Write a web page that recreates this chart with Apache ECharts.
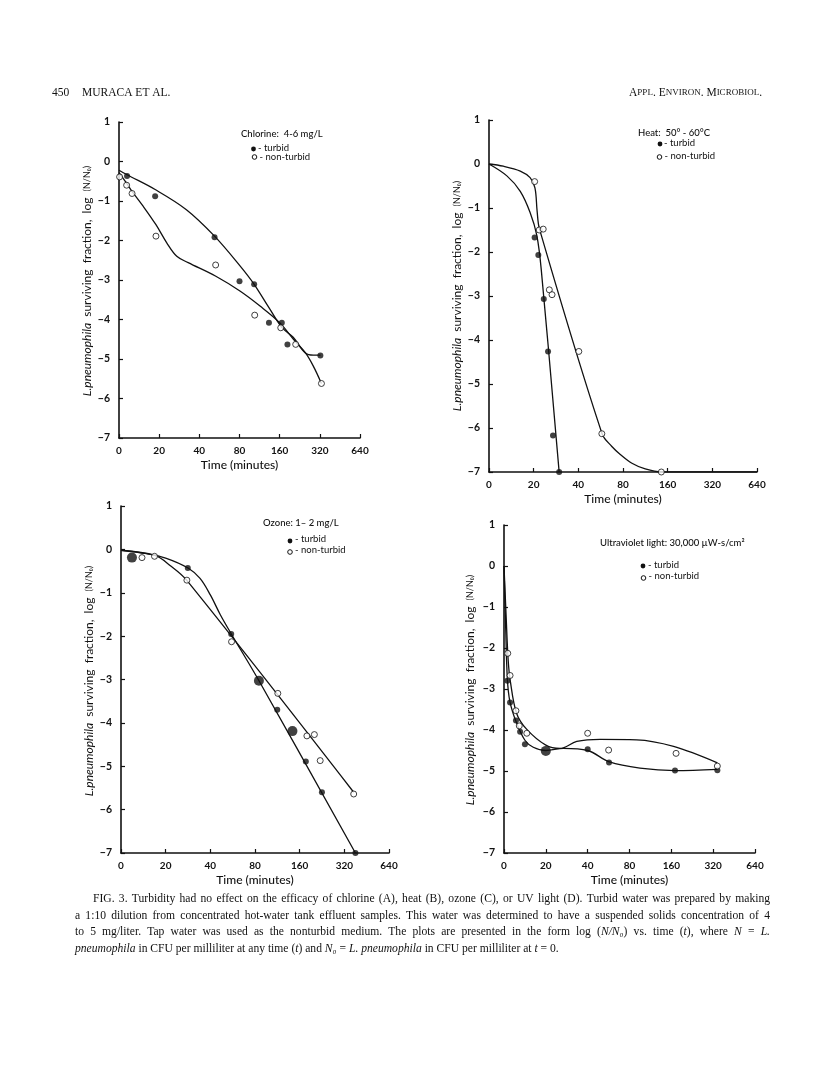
<!DOCTYPE html>
<html><head><meta charset="utf-8">
<script src="https://cdn.jsdelivr.net/npm/echarts@6/dist/echarts.min.js"></script>
<style>html,body{margin:0;padding:0;background:#fff}#c{width:816px;height:1077px}</style>
</head><body><div id="c"></div>
<script>
// ---------- DATA ----------
const X_TICK_LABELS = [0, 20, 40, 80, 160, 320, 640];   // minutes, equally spaced on the axis
const Y_MIN = -7, Y_MAX = 1;

// A: Chlorine 4-6 mg/L
const chlorineTurbidT = [4, 18, 52, 80, 103, 133, 166, 183, 323];
const chlorineTurbidV = [-0.37, -0.88, -1.92, -3.03, -3.11, -4.08, -4.08, -4.63, -4.91];
const chlorineClearT  = [0.3, 3.8, 6.5, 18.4, 53, 104, 163, 211, 329];
const chlorineClearV  = [-0.39, -0.6, -0.81, -1.89, -2.62, -3.89, -4.21, -4.63, -5.62];
const chlorineTurbidCurveT = [0, 3.8, 18, 32, 52, 81, 103, 133, 166, 202, 248, 286, 324];
const chlorineTurbidCurveV = [-0.22, -0.33, -0.71, -1.22, -1.89, -2.65, -3.11, -3.70, -4.2, -4.45, -4.84, -4.9, -4.9];
const chlorineClearCurveT  = [0, 3.8, 6.4, 12, 18.4, 22.8, 27.1, 33, 52.8, 80.6, 114, 160, 203, 249, 286, 329];
const chlorineClearCurveV  = [-0.28, -0.55, -0.75, -1.13, -1.6, -2.06, -2.4, -2.56, -2.9, -3.28, -3.66, -4.08, -4.5, -4.84, -5.18, -5.62];

// B: Heat 50-60 C
const heatTurbidT = [20.3, 21.5, 23.4, 25, 27, 29.7];
const heatTurbidV = [-1.67, -2.07, -3.07, -4.26, -6.17, -7.0];
const heatClearT  = [20.3, 21.8, 23.2, 25.5, 26.6, 40.3, 57.6, 145];
const heatClearV  = [-0.40, -1.5, -1.48, -2.86, -2.97, -4.26, -6.13, -7.0];
const heatTurbidCurveT = [0, 8, 14, 18.4, 21, 22.5, 29.7];
const heatTurbidCurveV = [0, -0.27, -0.62, -1.1, -1.62, -2.4, -7];
const heatClearCurveT  = [0, 6.4, 14, 18.4, 20.4, 21.1, 21.9, 57.8, 67.3, 76.7, 91.9, 113, 145, 640];
const heatClearCurveV  = [0, -0.05, -0.16, -0.31, -0.54, -1.07, -1.48, -6.13, -6.42, -6.6, -6.8, -6.93, -7, -7];

// C: Ozone 1-2 mg/L
const ozoneTurbidT = [4.9, 28.2, 55.3, 85, 113, 143, 176, 226, 380];
const ozoneTurbidV = [-0.19, -0.43, -1.95, -3.03, -3.7, -4.19, -4.89, -5.6, -7.0];
const ozoneClearT  = [9.4, 15, 27.8, 55.6, 114, 179, 201, 220, 370];
const ozoneClearV  = [-0.19, -0.16, -0.71, -2.13, -3.32, -4.3, -4.27, -4.87, -5.64];
const ozoneTurbidCurveT = [0, 11.6, 20, 28.3, 34.1, 40, 46.6, 55.4, 85.1, 380];
const ozoneTurbidCurveV = [-0.02, -0.1, -0.2, -0.43, -0.67, -1.05, -1.5, -1.95, -3.03, -7];
const ozoneClearCurveT  = [0, 15.2, 21.4, 27.7, 370];
const ozoneClearCurveV  = [-0.02, -0.14, -0.37, -0.71, -5.6];

// D: Ultraviolet light 30,000 uW-s/cm2
const uvTurbidT = [1.6, 2.9, 5.7, 7.7, 10, 20, 40, 57, 170, 343];
const uvTurbidV = [-2.8, -3.33, -3.77, -4.04, -4.35, -4.51, -4.47, -4.79, -4.99, -4.98];
const uvClearT  = [1.8, 2.9, 5.7, 7.3, 10.9, 40, 56.6, 173, 343];
const uvClearV  = [-2.13, -2.67, -3.53, -3.9, -4.08, -4.08, -4.49, -4.57, -4.88];
const uvTurbidCurveT = [0, 0.8, 1.6, 2.8, 5.8, 10, 14, 20, 26.8, 40, 57.4, 95.1, 170, 343];
const uvTurbidCurveV = [0, -1.5, -2.75, -3.3, -3.8, -4.25, -4.42, -4.5, -4.45, -4.5, -4.78, -4.93, -4.99, -4.96];
const uvClearCurveT  = [0, 1, 2, 3, 6, 10.8, 20, 25.3, 33.4, 49.2, 90, 166, 343];
const uvClearCurveV  = [0, -1.2, -2.3, -2.8, -3.59, -3.98, -4.37, -4.45, -4.28, -4.23, -4.24, -4.4, -4.8];

// ---------- AXIS TRANSFORM (0..20 linear, then doubling per step) ----------
function toPos(t) { return t <= 20 ? t / 20 : 1 + Math.log2(t / 20); }
function pts(T, V) { return T.map((t, i) => [toPos(t), V[i]]); }

// ---------- LAYOUT ----------
const SANS = 'Lato, "DejaVu Sans", sans-serif';
const SERIF = '"Liberation Serif", "DejaVu Serif", serif';
const panels = [
  { grid: {left:119, top:122, width:241, height:316}, ytitle:[87,281],
    head:['Chlorine:  4-6 mg/L', 241, 134], l1:[253.5,149,258,148], l2:[254.5,157,259.5,157],
    tT:chlorineTurbidT, tV:chlorineTurbidV, cT:chlorineClearT, cV:chlorineClearV,
    tcT:chlorineTurbidCurveT, tcV:chlorineTurbidCurveV, ccT:chlorineClearCurveT, ccV:chlorineClearCurveV, big:[] },
  { grid: {left:489, top:120, width:268, height:352}, ytitle:[457,296],
    head:['Heat:  50° - 60°C', 638, 133], l1:[660,144,664,143], l2:[659.5,157,664.5,156],
    tT:heatTurbidT, tV:heatTurbidV, cT:heatClearT, cV:heatClearV,
    tcT:heatTurbidCurveT, tcV:heatTurbidCurveV, ccT:heatClearCurveT, ccV:heatClearCurveV, big:[] },
  { grid: {left:121, top:506, width:268, height:347}, ytitle:[89,681],
    head:['Ozone: 1– 2 mg/L', 263, 523], l1:[290,541,295,539], l2:[290,552,295,550],
    tT:ozoneTurbidT, tV:ozoneTurbidV, cT:ozoneClearT, cV:ozoneClearV,
    tcT:ozoneTurbidCurveT, tcV:ozoneTurbidCurveV, ccT:ozoneClearCurveT, ccV:ozoneClearCurveV, big:[0,3,5] },
  { grid: {left:504, top:525, width:251, height:328}, ytitle:[470,690],
    head:['Ultraviolet light: 30,000 µW-s/cm²', 600, 543], l1:[643,566,648,565], l2:[643.5,578,648.5,576],
    tT:uvTurbidT, tV:uvTurbidV, cT:uvClearT, cV:uvClearV,
    tcT:uvTurbidCurveT, tcV:uvTurbidCurveV, ccT:uvClearCurveT, ccV:uvClearCurveV, big:[5] }
];

const grids = [], xAxes = [], yAxes = [], series = [], graphics = [];
panels.forEach((p, k) => {
  grids.push(Object.assign({containLabel:false}, p.grid));
  xAxes.push({
    gridIndex:k, type:'value', min:0, max:X_TICK_LABELS.length - 1, interval:1,
    name:'Time (minutes)', nameLocation:'middle', nameGap:21,
    nameTextStyle:{color:'#111', fontSize:12, fontFamily:SANS, fontWeight:500},
    axisLine:{onZero:false, lineStyle:{color:'#111', width:1.6}},
    axisTick:{inside:true, length:4, lineStyle:{color:'#111', width:1.2}},
    axisLabel:{color:'#111', fontSize:10, fontWeight:'bold', fontFamily:SANS, margin:8,
      formatter: v => String(X_TICK_LABELS[Math.round(v)])},
    splitLine:{show:false}
  });
  yAxes.push({
    gridIndex:k, type:'value', min:Y_MIN, max:Y_MAX, interval:1,
    axisLine:{show:true, onZero:false, lineStyle:{color:'#111', width:1.6}},
    axisTick:{show:true, inside:true, length:4, lineStyle:{color:'#111', width:1.2}},
    axisLabel:{color:'#111', fontSize:10.5, fontWeight:'bold', fontFamily:SANS, margin:9,
      formatter: v => v < 0 ? '\u2212' + Math.abs(v) : String(v)},
    splitLine:{show:false}
  });
  const lineBase = {type:'line', xAxisIndex:k, yAxisIndex:k, showSymbol:false, symbol:'none',
    smooth:0.35, lineStyle:{color:'#111', width:1.3}, z:2, silent:true};
  series.push(Object.assign({}, lineBase, {name:'turbid curve', data:pts(p.tcT, p.tcV)}));
  series.push(Object.assign({}, lineBase, {name:'non-turbid curve', data:pts(p.ccT, p.ccV)}));
  const big = p.big;
  series.push({type:'scatter', name:'turbid', xAxisIndex:k, yAxisIndex:k, z:4,
    data:pts(p.tT, p.tV), symbol:'circle',
    symbolSize:(v, prm) => big.indexOf(prm.dataIndex) >= 0 ? 10 : 6,
    itemStyle:{color:'#111'}});
  series.push({type:'scatter', name:'non-turbid', xAxisIndex:k, yAxisIndex:k, z:5,
    data:pts(p.cT, p.cV), symbol:'circle', symbolSize:6,
    itemStyle:{color:'#fff', borderColor:'#111', borderWidth:1}});

  // legend block
  graphics.push({type:'text', x:p.head[1], y:p.head[2],
    style:{text:p.head[0], fill:'#111', fontSize:9.5, fontWeight:500, fontFamily:SANS, verticalAlign:'middle'}});
  graphics.push({type:'circle', shape:{cx:p.l1[0], cy:p.l1[1], r:2.4}, style:{fill:'#111'}});
  graphics.push({type:'text', x:p.l1[2], y:p.l1[3],
    style:{text:'- turbid', fill:'#111', fontSize:9.5, fontFamily:SANS, verticalAlign:'middle'}});
  graphics.push({type:'circle', shape:{cx:p.l2[0], cy:p.l2[1], r:2.3}, style:{fill:'#fff', stroke:'#111', lineWidth:1}});
  graphics.push({type:'text', x:p.l2[2], y:p.l2[3],
    style:{text:'- non-turbid', fill:'#111', fontSize:9.5, fontFamily:SANS, verticalAlign:'middle'}});

  // y-axis title
  graphics.push({type:'text', x:p.ytitle[0], y:p.ytitle[1], rotation:Math.PI/2,
    style:{text:'{i|L.pneumophila}  surviving  fraction,  log  {s|(N/N\u2080)}',
      fill:'#111', fontSize:12, fontFamily:SANS, align:'center', verticalAlign:'middle',
      rich:{i:{fontStyle:'italic', fontSize:12, fontFamily:SANS, fill:'#111'},
            s:{fontSize:9, fontFamily:SANS, fill:'#111'}}}});
});

// ---------- page header ----------
graphics.push({type:'text', x:52, y:93, style:{text:'450', fill:'#111', fontSize:11.5, fontFamily:SERIF, verticalAlign:'middle'}});
graphics.push({type:'text', x:82, y:93, style:{text:'MURACA ET AL.', fill:'#111', fontSize:11.5, fontFamily:SERIF, verticalAlign:'middle'}});
graphics.push({type:'text', x:762, y:93, style:{text:'A{s|PPL}. E{s|NVIRON}. M{s|ICROBIOL}.', fill:'#111',
  fontSize:11.5, fontFamily:SERIF, align:'right', verticalAlign:'middle',
  rich:{s:{fontSize:9, fontFamily:SERIF, fill:'#111'}}}});

// ---------- caption (justified word by word) ----------
const CAPTION = [
  [93, true,  'FIG. 3. Turbidity had no effect on the efficacy of chlorine (A), heat (B), ozone (C), or UV light (D). Turbid water was prepared by making'],
  [75, true,  'a 1:10 dilution from concentrated hot-water tank effluent samples. This water was determined to have a suspended solids concentration of 4'],
  [75, true,  'to 5 mg/liter. Tap water was used as the nonturbid medium. The plots are presented in the form log (*N/N\u2080*) vs. time (*t*), where *N* = *L.*'],
  [75, false, '*pneumophila* in CFU per milliliter at any time (*t*) and *N\u2080* = *L.* *pneumophila* in CFU per milliliter at *t* = 0.']
];
const CAP_Y0 = 899, CAP_DY = 16.6, CAP_FS = 11.6, CAP_RIGHT = 770;
const cv = document.createElement('canvas').getContext('2d');
function segW(s) { cv.font = (s.it ? 'italic ' : '') + CAP_FS + 'px ' + SERIF; return cv.measureText(s.t).width; }
CAPTION.forEach((ln, li) => {
  const words = ln[2].split(' ').map(w => {
    const segs = [];
    w.split('*').forEach((part, j) => { if (part) segs.push({t:part, it: j % 2 === 1}); });
    return segs;
  });
  const widths = words.map(ws => ws.reduce((a, s) => a + segW(s), 0));
  const total = widths.reduce((a, b) => a + b, 0);
  cv.font = CAP_FS + 'px ' + SERIF;
  const gap = ln[1] ? (CAP_RIGHT - ln[0] - total) / (words.length - 1) : cv.measureText(' ').width;
  let x = ln[0];
  words.forEach((ws, wi) => {
    graphics.push({type:'text', x:x, y:CAP_Y0 + li * CAP_DY, style:{
      text: ws.map(s => '{' + (s.it ? 'i' : 'r') + '|' + s.t + '}').join(''),
      verticalAlign:'middle', fill:'#111', fontSize:CAP_FS, fontFamily:SERIF,
      rich:{r:{fontSize:CAP_FS, fontFamily:SERIF, fill:'#111'}, i:{fontSize:CAP_FS, fontFamily:SERIF, fontStyle:'italic', fill:'#111'}}}});
    x += widths[wi] + gap;
  });
});

const chart = echarts.init(document.getElementById('c'), null, {renderer:'canvas'});
chart.setOption({
  backgroundColor:'#fff', animation:false,
  grid:grids, xAxis:xAxes, yAxis:yAxes, series:series, graphic:graphics
});
</script></body></html>
